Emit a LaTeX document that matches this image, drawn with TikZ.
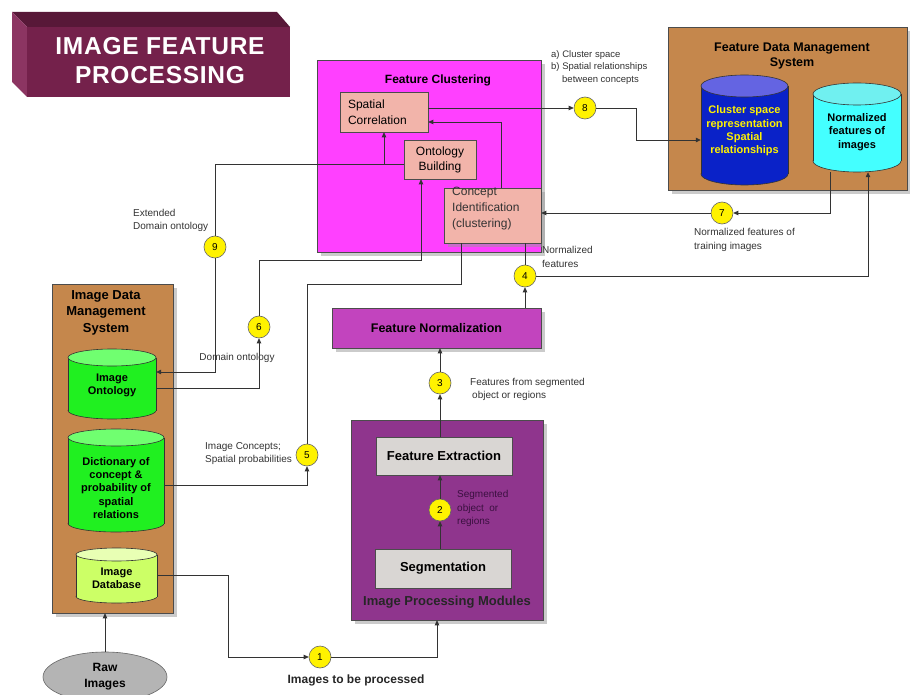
\documentclass[tikz,border=0pt]{standalone}
\usepackage{fontspec}
\setmainfont{Liberation Sans}
\usetikzlibrary{arrows.meta,shapes.geometric,shadows,calc}

\newcommand\fsz[2]{\fontsize{#1}{#2}\selectfont}
% database drum: centre x, centre y, width, height, end radius, body colour, lid colour
\newcommand\dbshape[7]{%
  \filldraw[dbline,fill=#6] (#1,{#2+#4/2-#5}) ellipse [x radius={#3/2}, y radius=#5];
  \fill[#6] ({#1-#3/2},{#2-#4/2+#5}) rectangle ({#1+#3/2},{#2+#4/2-#5});
  \draw[dbline] ({#1-#3/2},{#2-#4/2+#5}) -- ({#1-#3/2},{#2+#4/2-#5})
                ({#1+#3/2},{#2-#4/2+#5}) -- ({#1+#3/2},{#2+#4/2-#5});
  \filldraw[dbline,fill=#7] (#1,{#2-#4/2+#5}) ellipse [x radius={#3/2}, y radius=#5];
}

\definecolor{tfront}{HTML}{74214B}
\definecolor{ttop}{HTML}{581838}
\definecolor{tside}{HTML}{8C3562}
\definecolor{clusterbg}{HTML}{FF40FF}
\definecolor{salmon}{HTML}{F2B4AA}
\definecolor{brownbg}{HTML}{C5874C}
\definecolor{normbg}{HTML}{C244BE}
\definecolor{procbg}{HTML}{8F358D}
\definecolor{boxgray}{HTML}{D9D6D3}
\definecolor{cylblue}{HTML}{0A22C8}
\definecolor{cylbluetop}{HTML}{6464E2}
\definecolor{cylcyan}{HTML}{44FFFF}
\definecolor{cylcyantop}{HTML}{70F0F0}
\definecolor{cylgreen}{HTML}{20F020}
\definecolor{cylgreentop}{HTML}{70FF70}
\definecolor{cyllime}{HTML}{CCFF66}
\definecolor{cyllimetop}{HTML}{E8FFB4}
\definecolor{rawgray}{HTML}{B4B4B4}
\definecolor{labelgray}{HTML}{333333}
\definecolor{segtext}{HTML}{3A1040}

\begin{document}
\begin{tikzpicture}[x=1pt,y=-1pt,
  shade/.style={drop shadow={shadow xshift=4pt,shadow yshift=-4pt,fill=black!40,opacity=.5}},
  panel/.style={draw=black!70,line width=.6pt,inner sep=0pt},
  pinkbox/.style={panel,fill=salmon,font=\fsz{12}{16}},
  graybox/.style={panel,fill=boxgray,font=\bfseries\fsz{13}{15}},
  dbline/.style={draw=black!80,line width=.6pt},
  dbanchor/.style={rectangle,draw=none,inner sep=0pt},
  dbtext/.style={inner sep=0pt,align=center,font=\bfseries\fsz{11}{13.3}},
  num/.style={circle,draw=black!60,line width=.6pt,fill=yellow,minimum size=22pt,
    inner sep=0pt,font=\fsz{10}{12}},
  wire/.style={draw=black!80,line width=.7pt},
  arr/.style={wire,-{Triangle[length=5pt,width=4.5pt]}},
  lbl/.style={text=labelgray,align=left,inner sep=0pt,font=\fsz{10}{13.5}},
  heading/.style={inner sep=0pt,align=center,font=\bfseries\fsz{12.5}{15}}
]
\fill[white] (0,0) rectangle (910,695);
\useasboundingbox (0,0) rectangle (910,695);

% title block drawn as a bevelled slab
\fill[ttop] (12,12) -- (277,12) -- (290,27) -- (27,27) -- cycle;
\fill[tside] (12,12) -- (27,27) -- (27,97) -- (12,82) -- cycle;
\fill[tfront] (27,27) rectangle (290,97);
\node[text=white,align=center,inner sep=0pt,
  font=\bfseries\fsz{24.5}{29}\addfontfeatures{LetterSpace=3}] (title) at (160,60.5)
  {IMAGE FEATURE\\PROCESSING};

% feature clustering group
\node[panel,fill=clusterbg,shade,minimum width=224,minimum height=192] (fc) at (429,156) {};
\node[heading,font=\bfseries\fsz{12}{15}] (fctitle) at (438,80) {Feature Clustering};
\node[pinkbox,minimum width=88,minimum height=40,text width=72,align=left] (sc) at (384,112)
  {Spatial\\Correlation};
\node[pinkbox,minimum width=72,minimum height=39,align=center,font=\fsz{12}{15}] (ob) at (440,159.5)
  {Ontology\\Building};
\node[pinkbox,shade,minimum width=97,minimum height=55] (ci) at (492.5,215.5) {};
\node[lbl,text=black!80,font=\fsz{12}{16},anchor=west] (citext) at (452,209)
  {Concept\\Identification\\(clustering)};

% feature data management system
\node[panel,fill=brownbg,shade,minimum width=239,minimum height=163] (fdms) at (787.5,108.5) {};
\node[heading,font=\bfseries\fsz{12.5}{15}] (fdmstitle) at (792,55.5) {Feature Data Management\\System};
\dbshape{744.5}{130}{87}{110}{11}{cylblue}{cylbluetop}
\node[dbanchor,minimum width=87,minimum height=110] (cs) at (744.5,130) {};
\node[dbtext,text=yellow] (cstext) at (744.5,131)
  {Cluster space\\representation\\Spatial\\relationships};
\dbshape{857}{127.5}{88}{89}{11}{cylcyan}{cylcyantop}
\node[dbanchor,minimum width=88,minimum height=89] (nf) at (857,127.5) {};
\node[dbtext] (nftext) at (857,132) {Normalized\\features of\\images};

% image data management system
\node[panel,fill=brownbg,shade,minimum width=121,minimum height=329] (idms) at (112.5,448.5) {};
\node[heading,font=\bfseries\fsz{13}{16.5}] (idmstitle) at (106,312.5) {Image Data\\Management\\System};
\dbshape{112}{384}{88}{70}{8.5}{cylgreen}{cylgreentop}
\node[dbanchor,minimum width=88,minimum height=70] (io) at (112,384) {};
\node[dbtext] (iotext) at (112,385.5) {Image\\Ontology};
\dbshape{116}{480.5}{96}{103}{8.5}{cylgreen}{cylgreentop}
\node[dbanchor,minimum width=96,minimum height=103] (dict) at (116,480.5) {};
\node[dbtext] (dicttext) at (116,488)
  {Dictionary of\\concept \&\\probability of\\spatial\\relations};
\dbshape{116.5}{575.5}{81}{55}{6.5}{cyllime}{cyllimetop}
\node[dbanchor,minimum width=81,minimum height=55] (idb) at (116.5,575.5) {};
\node[dbtext] (idbtext) at (116.5,578) {Image\\Database};

\node[ellipse,draw=black!60,line width=.6pt,fill=rawgray,minimum width=124,minimum height=50,
  inner sep=0pt,align=center,font=\bfseries\fsz{12}{16}] (raw) at (105,677) {Raw\\Images};

% processing chain
\node[panel,fill=normbg,shade,minimum width=209,minimum height=40,font=\bfseries\fsz{12.5}{15}] (fn)
  at (436.5,328) {Feature Normalization};
\node[panel,fill=procbg,shade,minimum width=192,minimum height=200] (ipm) at (447,520) {};
\node[heading,font=\bfseries\fsz{13}{15},text=black!85] (ipmtitle) at (447,602) {Image Processing Modules};
\node[graybox,minimum width=136,minimum height=38] (fe) at (444,456) {Feature Extraction};
\node[graybox,minimum width=136,minimum height=39] (seg) at (443,568.5) {Segmentation};

% numbered steps
\node[num] (c1) at (320,657) {1};
\node[num] (c2) at (440,510) {2};
\node[num] (c3) at (440,383) {3};
\node[num] (c4) at (525,276) {4};
\node[num] (c5) at (307,455) {5};
\node[num] (c6) at (259,327) {6};
\node[num] (c7) at (722,213) {7};
\node[num] (c8) at (585,108) {8};
\node[num] (c9) at (215,247) {9};

% connectors
\draw[arr] (raw.north) -- (raw.north |- idms.south);
\draw[arr] (idb.east) -- ++(71,0) |- (c1);
\draw[arr] (c1) -| ([xshift=-10pt]ipm.south);
\draw[arr] (c2 |- seg.north) -- (c2);
\draw[arr] (c2) -- (c2 |- fe.south);
\draw[arr] (c3 |- fe.north) -- (c3);
\draw[arr] (c3) -- (c3 |- fn.south);
\draw[arr] (c4 |- fn.north) -- (c4);
\draw[wire] (c4) -- (c4 |- ci.south);
\draw[arr] (c4) -| ([xshift=11pt]nf.south);
\draw[arr] ([xshift=-27pt]nf.south) |- (c7);
\draw[arr] (c7) -- (c7 -| ci.east);
\draw[wire] ([xshift=-31.5pt]ci.south) -- ++(0,41) -| (c5);
\draw[arr] ([yshift=-5pt]dict.east) -| (c5);
\draw[arr] ([yshift=-4pt]io.east) -| (c6);
\draw[arr] (c6) -- ++(0,-67) -| ([xshift=-19pt]ob.south);
\coordinate (obL) at ([yshift=-4.5pt]ob.west);
\draw[wire] (obL) -| (c9);
\draw[arr] (sc.south |- obL) -- (sc.south);
\draw[arr] (c9) |- ([yshift=12pt]io.east);
\draw[arr] ([xshift=8.5pt]ci.north) |- ([yshift=-10pt]sc.east);
\draw[arr] ([yshift=4pt]sc.east) -- (c8);
\draw[arr] (c8) -- ++(51,0) |- ([yshift=-10pt]cs.west);

% connector captions
\node[lbl,anchor=west,font=\fsz{9.5}{12.5}] (l8) at (551,67.5)
  {a) Cluster space\\b) Spatial relationships\\\hspace*{11pt}between concepts};
\node[lbl,anchor=west] (l7) at (694,240) {Normalized features of\\training images};
\node[lbl,anchor=west] (l4) at (542,257) {Normalized\\features};
\node[lbl,anchor=west] (l3) at (470,389.5) {Features from segmented\\\hspace*{2pt}object or regions};
\node[lbl,anchor=west,text=segtext] (l2) at (457,508.5) {Segmented\\object\ \ or\\regions};
\node[lbl,text=black!85,font=\bfseries\fsz{12}{14}] (l1) at (356,680) {Images to be processed};
\node[lbl,anchor=west] (l5) at (205,453.5) {Image Concepts;\\Spatial probabilities};
\node[lbl] (l6) at (237,358) {Domain ontology};
\node[lbl,anchor=west] (l9) at (133,220.5) {Extended\\Domain ontology};
\end{tikzpicture}
\end{document}
